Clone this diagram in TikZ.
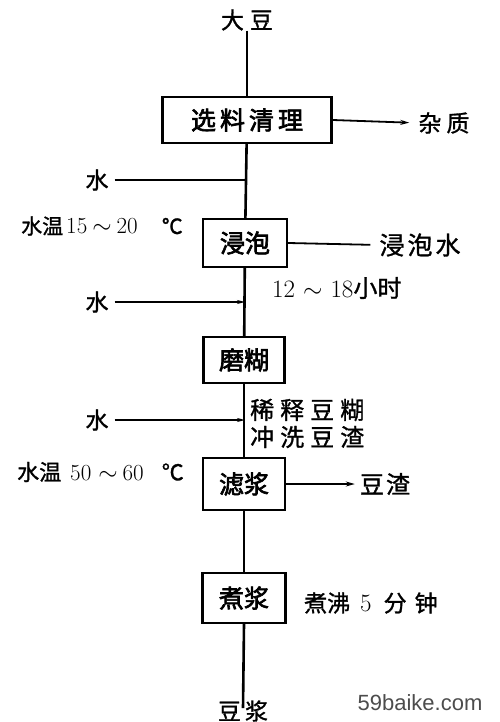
\documentclass[tikz,border=0pt]{standalone}
\usepackage{fontspec}
\newfontfamily\cjk[FakeBold=1.2]{Noto Sans CJK SC}
\newfontfamily\cjkb[FakeBold=2.6]{Noto Sans CJK SC}
\newfontfamily\wm{Liberation Sans}
\newcommand{\dg}[2][23]{{\fontfamily{lmr}\fontsize{#1}{26}\selectfont #2}}
\usetikzlibrary{arrows.meta}
\begin{document}
\begin{tikzpicture}[x=1pt,y=-1pt,
  box/.style={draw,line width=2.4pt,minimum height=46pt,inner sep=0pt,font=\fontsize{25}{28}\selectfont\cjkb},
  lbl/.style={inner sep=0pt,font=\fontsize{23}{26}\selectfont\cjk},
  mainline/.style={line width=2.6pt},
  sideline/.style={line width=1.8pt},
  outline/.style={line width=1.8pt,-{Stealth[length=9pt,width=5pt]}}]
\useasboundingbox (0,0) rectangle (500,722);
% nodes
\node[lbl] (dd) at (247,20) {大\hspace{6pt}豆};
\node[box,minimum width=169pt] (b1) at (247,120) {选\hspace{4pt}料\hspace{4pt}清\hspace{4pt}理};
\node[box,minimum width=84pt,minimum height=48pt] (b2) at (245,243) {浸泡};
\node[box,minimum width=81pt] (b3) at (244,360) {磨糊};
\node[box,minimum width=82pt,minimum height=52pt] (b4) at (244,484) {滤浆};
\node[box,minimum width=83pt,minimum height=50pt] (b5) at (244,598) {煮浆};
\node[lbl] (dj) at (243,711) {豆\hspace{4pt}浆};
% side labels
\node[lbl] (zz) at (444,123) {杂\hspace{5pt}质};
\node[lbl,font=\fontsize{25}{28}\selectfont\cjk] (jpw) at (420,245) {浸\hspace{3pt}泡\hspace{3pt}水};
\node[lbl,font=\fontsize{24}{26}\selectfont\cjk] (dz) at (385,484) {豆\hspace{2pt}渣};
\node[lbl] (w1) at (97,180) {水};
\node[lbl] (w2) at (97,302) {水};
\node[lbl] (w3) at (97,420) {水};
\node[lbl,anchor=west,font=\fontsize{21}{24}\selectfont\cjk] (t1) at (21,226)
  {水温\hspace{3pt}\dg{15\hspace{5pt}$\sim$\hspace{5pt}20}\hspace{24pt}℃};
\node[lbl,anchor=west,font=\fontsize{24}{26}\selectfont\cjk] (t2) at (272,288)
  {\dg[25]{12\hspace{8pt}$\sim$\hspace{8pt}18}小时};
\node[lbl,anchor=west,font=\fontsize{24}{26}\selectfont\cjk] (t3) at (250,410) {稀\hspace{6pt}释\hspace{6pt}豆\hspace{6pt}糊};
\node[lbl,anchor=west,font=\fontsize{24}{26}\selectfont\cjk] (t4) at (250,437) {冲\hspace{6pt}洗\hspace{6pt}豆\hspace{6pt}渣};
\node[lbl,anchor=west,font=\fontsize{22}{24}\selectfont\cjk] (t5) at (17,472)
  {水温\hspace{9pt}\dg{50\hspace{7pt}$\sim$\hspace{5pt}60}\hspace{18pt}℃};
\node[lbl,anchor=west] (t6) at (304,603) {煮沸\hspace{10pt}\dg[25]{5}\hspace{12pt}分\hspace{8pt}钟};
\node[inner sep=0pt,font=\fontsize{22}{26}\selectfont\wm,text=black!70] (wm) at (420,703) {59baike.com};
% junctions
\coordinate (j1) at (246,180);
\coordinate (j2) at (245,302);
\coordinate (j3) at (245,420);
% main flow
\draw[mainline] (dd) -- (b1);
\draw[mainline] (b1) -- (b2);
\draw[mainline] (b2) -- (b3);
\draw[mainline] (b3) -- (b4);
\draw[mainline] (b4) -- (b5);
\draw[mainline] (b5.south) -- ([yshift=-8pt]dj.north);
% inputs
\draw[sideline] ([xshift=6pt]w1.east) -- (j1);
\draw[sideline,-{Stealth[length=8pt,width=4pt]}] ([xshift=6pt]w2.east) -- (j2);
\draw[sideline,-{Stealth[length=8pt,width=4pt]}] ([xshift=6pt]w3.east) -- (j3);
% outputs
\draw[outline,shorten >=9pt] (b1.east) -- (zz.west);
\draw[sideline,shorten >=9pt] (b2.east) -- (jpw.west);
\draw[outline,shorten >=5pt] (b4.east) -- (dz.west);
\end{tikzpicture}
\end{document}
